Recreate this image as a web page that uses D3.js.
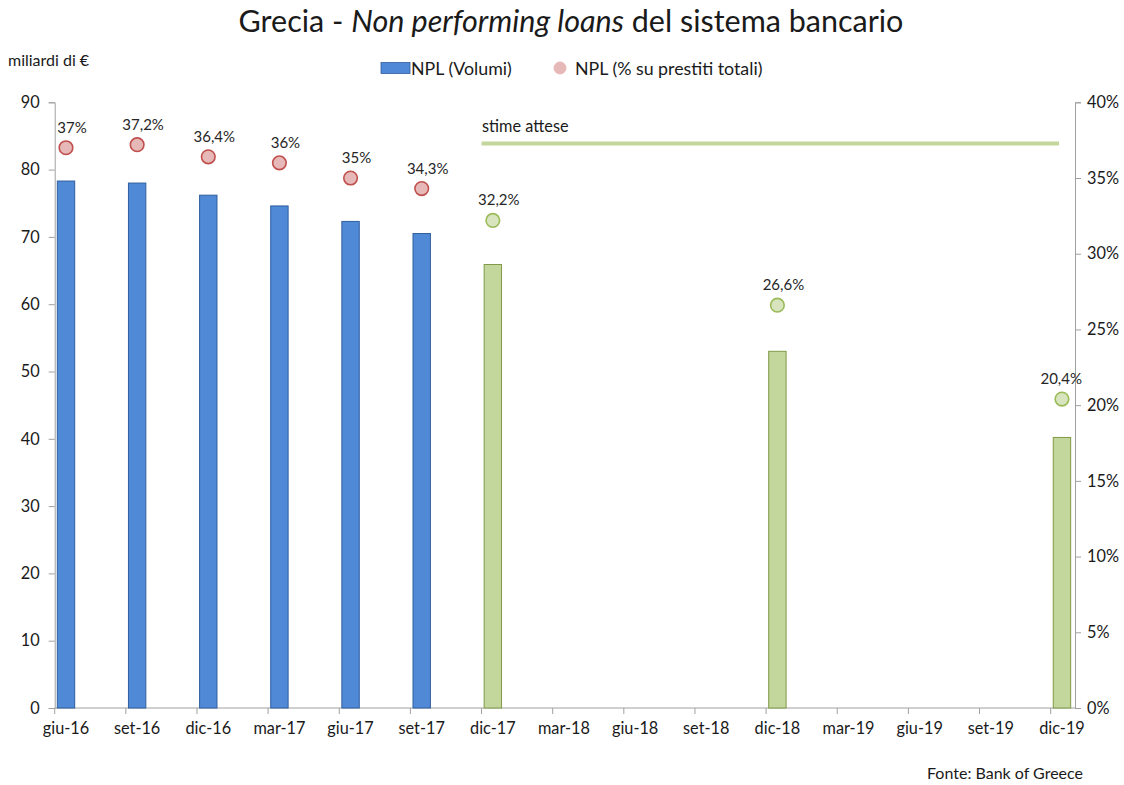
<!DOCTYPE html>
<html>
<head>
<meta charset="utf-8">
<script src="https://cdn.jsdelivr.net/npm/d3@7/dist/d3.min.js"></script>
<style>
  html, body { margin: 0; padding: 0; background: #fff; }
  svg { display: block; font-family: Lato, "Open Sans", sans-serif; }
</style>
</head>
<body>
<svg id="chart" width="1124" height="785"></svg>
<script>
// Quarterly categories on the x axis
const categories = ["giu-16","set-16","dic-16","mar-17","giu-17","set-17","dic-17",
                    "mar-18","giu-18","set-18","dic-18","mar-19","giu-19","set-19","dic-19"];

// NPL volumes (billions of euro): observed and expected
const volumiDates = ["giu-16","set-16","dic-16","mar-17","giu-17","set-17"];
const volumi      = [78.3, 78.0, 76.2, 74.6, 72.3, 70.5];
const stimeDates  = ["dic-17","dic-18","dic-19"];
const stimeVolumi = [65.9, 53.0, 40.2];

// NPL as % of total loans
const quotaObs   = [37, 37.2, 36.4, 36, 35, 34.3];
const quotaStime = [32.2, 26.6, 20.4];

const leftTicks  = [0, 10, 20, 30, 40, 50, 60, 70, 80, 90];
const rightTicks = [0, 5, 10, 15, 20, 25, 30, 35, 40];

const svg = d3.select("#chart");

const plotL = 54.7, plotR = 1075, plotT = 102.3, plotB = 708;
const step = 71.14;

const x = d3.scaleBand().domain(categories)
  .range([plotL, plotL + step * categories.length]).padding(0);
const barW = 17.4, barOff = 2.6;
const cx = d => x(d) + barOff + barW / 2;

const yL = d3.scaleLinear().domain([0, 90]).range([plotB, plotT]);
const yR = d3.scaleLinear().domain([0, 40]).range([plotB, plotT]);

const fmt = v => String(v).replace(".", ",") + "%";
const axisColor = "#a0a0a0";
const textColor = "#1a1a1a";

// Title
const title = svg.append("text")
  .attr("x", 571).attr("y", 32)
  .attr("text-anchor", "middle")
  .attr("font-size", 30.5).attr("fill", textColor);
title.append("tspan").text("Grecia - ");
title.append("tspan").attr("font-style", "italic").text("Non performing loans");
title.append("tspan").text(" del sistema bancario");

// Unit label
svg.append("text").attr("x", 8).attr("y", 66)
  .attr("font-size", 16).attr("fill", textColor).text("miliardi di €");

// Legend
const leg = svg.append("g");
leg.append("rect").attr("x", 381).attr("y", 62.5).attr("width", 29).attr("height", 11)
  .attr("fill", "#4f88d6").attr("stroke", "#2f5e9e").attr("stroke-width", 0.8);
leg.append("text").attr("x", 411).attr("y", 74.5).attr("font-size", 17.8)
  .attr("fill", textColor).text("NPL (Volumi)");
leg.append("circle").attr("cx", 560).attr("cy", 68).attr("r", 6)
  .attr("fill", "#e6b9b8").attr("stroke", "#e6b9b8");
leg.append("text").attr("x", 575).attr("y", 74.5).attr("font-size", 17.8)
  .attr("fill", textColor).text("NPL (% su prestiti totali)");

// Left axis
const axL = svg.append("g").attr("transform", `translate(${plotL},0)`)
  .call(d3.axisLeft(yL).tickValues(leftTicks).tickSize(6).tickPadding(9));
// Right axis
const axR = svg.append("g").attr("transform", `translate(${plotR},0)`)
  .call(d3.axisRight(yR).tickValues(rightTicks).tickSize(6).tickPadding(6).tickFormat(d => d + "%"));
// Bottom axis
const axB = svg.append("g").attr("transform", `translate(0,${plotB})`)
  .call(d3.axisBottom(x).tickSize(6).tickPadding(8).tickSizeOuter(0));
axB.selectAll(".tick line").attr("transform", `translate(${-x.bandwidth() / 2},0)`);
axB.selectAll(".tick text").attr("transform", `translate(${barOff + barW / 2 - x.bandwidth() / 2},0)`);
axB.select(".domain").attr("d", `M${plotL},0H${plotR}`);

[axL, axR, axB].forEach(a => {
  a.select(".domain").attr("stroke", axisColor);
  a.selectAll(".tick line").attr("stroke", axisColor);
  a.selectAll(".tick text").attr("fill", textColor).attr("font-size", 16.3)
    .attr("font-family", "Lato, 'Open Sans', sans-serif");
});

// Bars: observed volumes
svg.append("g").selectAll("rect").data(volumi).join("rect")
  .attr("x", (d, i) => x(volumiDates[i]) + barOff)
  .attr("y", d => yL(d)).attr("width", barW).attr("height", d => plotB - yL(d))
  .attr("fill", "#5089d6").attr("stroke", "#2f5e9e").attr("stroke-width", 1);

// Bars: expected volumes
svg.append("g").selectAll("rect").data(stimeVolumi).join("rect")
  .attr("x", (d, i) => x(stimeDates[i]) + barOff)
  .attr("y", d => yL(d)).attr("width", barW).attr("height", d => plotB - yL(d))
  .attr("fill", "#c3d69b").attr("stroke", "#7f9a48").attr("stroke-width", 1);

// Forecast period marker
svg.append("line")
  .attr("x1", x("dic-17")).attr("x2", cx("dic-19") - 3)
  .attr("y1", 143.5).attr("y2", 143.5)
  .attr("stroke", "#c3d69b").attr("stroke-width", 4);
svg.append("text").attr("x", x("dic-17") + 0.5).attr("y", 131.5)
  .attr("font-size", 16.3).attr("fill", textColor).text("stime attese");

// Points: share of total loans
function drawPoints(values, dates, fill, stroke) {
  const g = svg.append("g");
  g.selectAll("circle").data(values).join("circle")
    .attr("cx", (d, i) => cx(dates[i])).attr("cy", d => yR(d)).attr("r", 6.8)
    .attr("fill", fill).attr("stroke", stroke).attr("stroke-width", 1.6);
  g.selectAll("text").data(values).join("text")
    .attr("y", d => yR(d) - 15)
    .attr("text-anchor", "middle").attr("font-size", 15).attr("fill", "#262626")
    .text(d => fmt(d))
    .attr("x", function (d, i) {
      const half = this.getComputedTextLength() / 2;
      return Math.min(cx(dates[i]) + 6, plotR + 7 - half);
    });
}
drawPoints(quotaObs, volumiDates, "#e6b9b8", "#c0504d");
drawPoints(quotaStime, stimeDates, "#d7e4bd", "#9bbb59");

// Source note
svg.append("text").attr("x", 1083).attr("y", 779).attr("text-anchor", "end")
  .attr("font-size", 16).attr("fill", textColor).text("Fonte: Bank of Greece");
</script>
</body>
</html>
